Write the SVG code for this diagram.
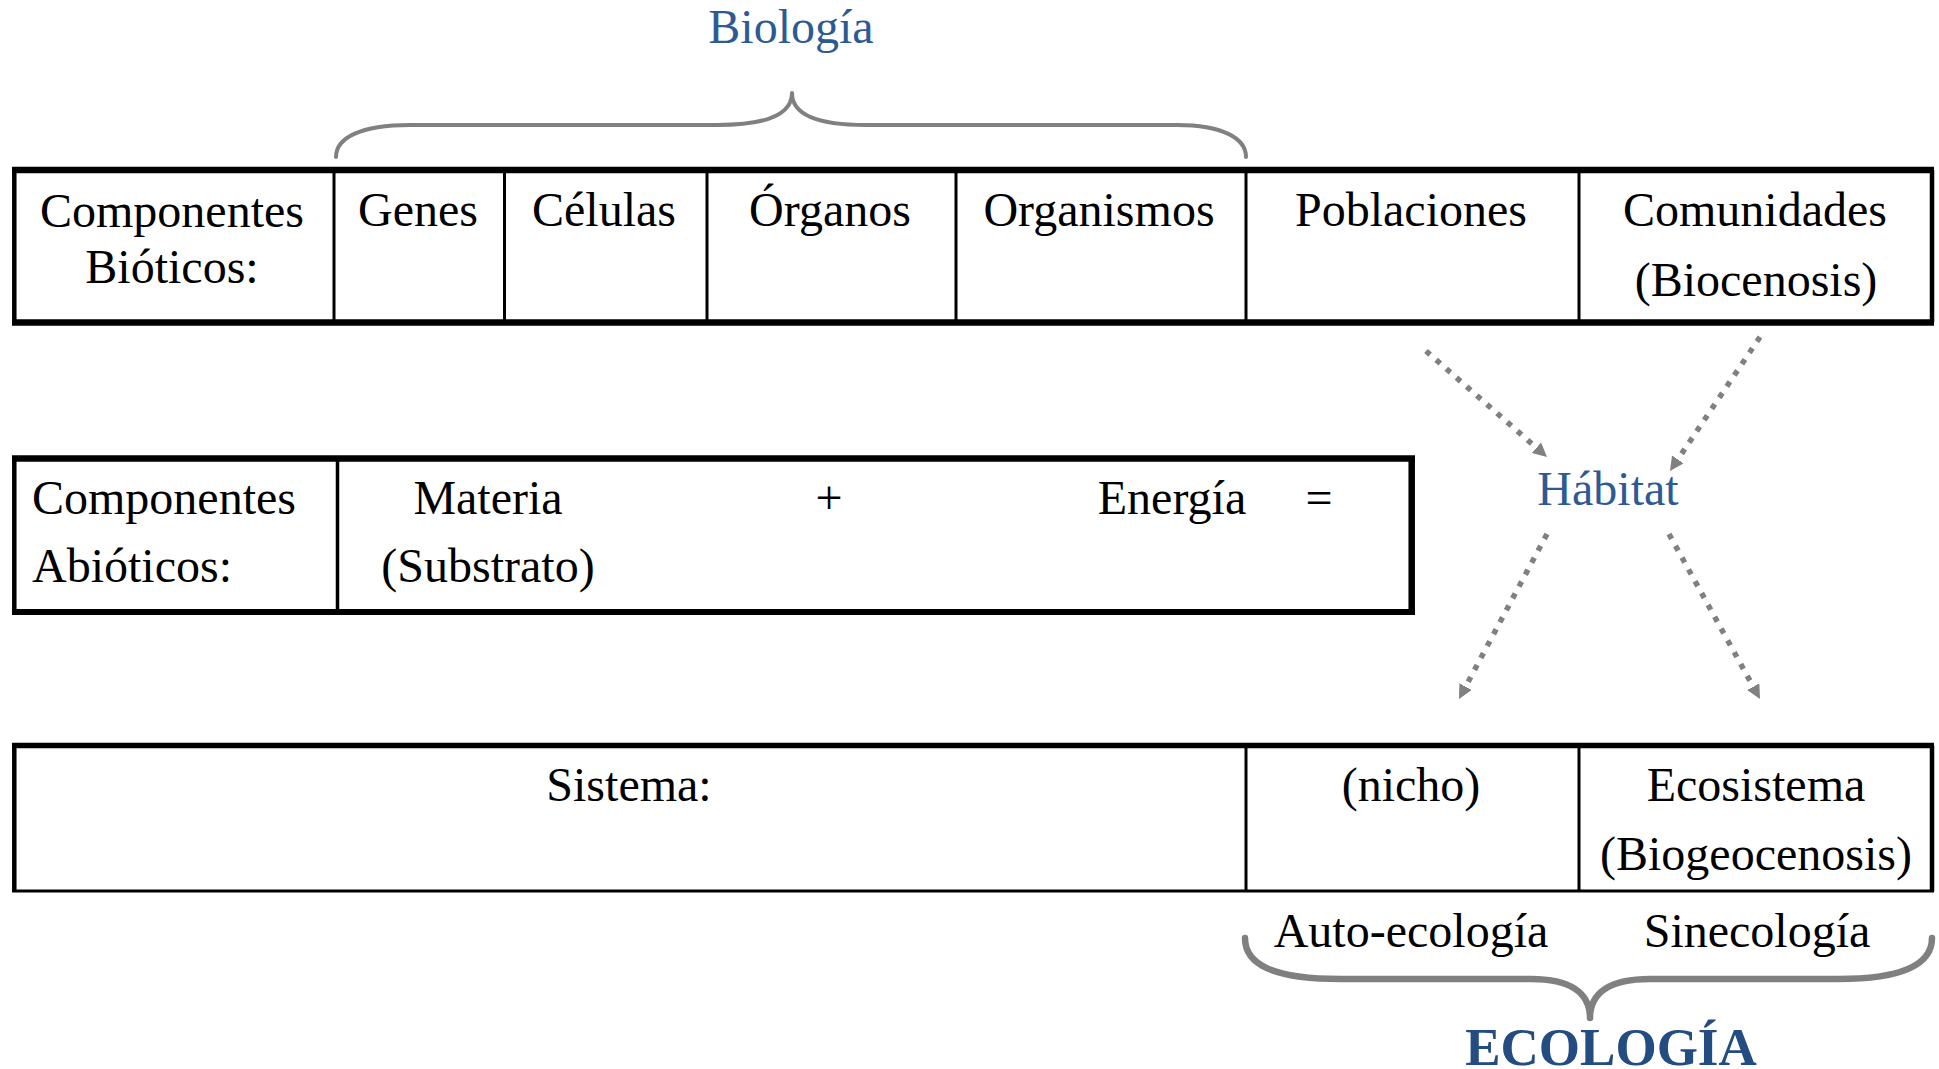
<svg xmlns="http://www.w3.org/2000/svg" width="1939" height="1069" viewBox="0 0 1939 1069">
<style>
  text { font-family: "Liberation Serif", "Times New Roman", serif; font-size: 48px; fill: #000; }
  .c { text-anchor: middle; }
  .blue { fill: #2E5A94; }
  .eco { fill: #234C80; font-weight: bold; font-size: 53px; }
  .b { stroke: #000; fill: none; }
  .brace { stroke: #808080; fill: none; stroke-linecap: round; stroke-linejoin: round; }
  .dot { stroke: #808080; stroke-width: 5.5; stroke-dasharray: 5.5 8; fill: none; }
</style>
<defs>
  <marker id="ah" markerUnits="userSpaceOnUse" markerWidth="18" markerHeight="16" refX="14" refY="7" orient="auto">
    <path d="M0,0 L14,7 L0,14 Z" fill="#808080"/>
  </marker>
</defs>
<rect width="1939" height="1069" fill="#fff"/>

<g id="biologia">
  <text class="c blue" x="791" y="43">Biología</text>
  <path class="brace" stroke-width="4" d="M336,157 C336,138 360,125 410,125 L717,125 C760,125 792,117 792,93 C792,117 824,125 866,125 L1177,125 C1222,125 1246,138 1246,157"/>
</g>

<g id="bioticos">
  <line class="b" x1="12" y1="170" x2="1934" y2="170" stroke-width="6.5"/>
  <line class="b" x1="12" y1="322.5" x2="1934" y2="322.5" stroke-width="6.5"/>
  <line class="b" x1="14.3" y1="170" x2="14.3" y2="322.5" stroke-width="4.5"/>
  <line class="b" x1="1932" y1="170" x2="1932" y2="322.5" stroke-width="4.5"/>
  <line class="b" x1="334" y1="170" x2="334" y2="322.5" stroke-width="3"/>
  <line class="b" x1="504.5" y1="170" x2="504.5" y2="322.5" stroke-width="3"/>
  <line class="b" x1="707" y1="170" x2="707" y2="322.5" stroke-width="3"/>
  <line class="b" x1="956" y1="170" x2="956" y2="322.5" stroke-width="3"/>
  <line class="b" x1="1246" y1="170" x2="1246" y2="322.5" stroke-width="3"/>
  <line class="b" x1="1579" y1="170" x2="1579" y2="322.5" stroke-width="3"/>
  <text class="c" x="172" y="227">Componentes</text>
  <text class="c" x="172" y="283">Bióticos:</text>
  <text class="c" x="418" y="226">Genes</text>
  <text class="c" x="604" y="226">Células</text>
  <text class="c" x="830" y="226">Órganos</text>
  <text class="c" x="1099" y="226">Organismos</text>
  <text class="c" x="1411" y="226">Poblaciones</text>
  <text class="c" x="1755" y="226">Comunidades</text>
  <text class="c" x="1756" y="296">(Biocenosis)</text>
</g>

<g id="abioticos">
  <line class="b" x1="12" y1="458.5" x2="1415" y2="458.5" stroke-width="6.5"/>
  <line class="b" x1="12" y1="612" x2="1415" y2="612" stroke-width="6"/>
  <line class="b" x1="14.3" y1="458.5" x2="14.3" y2="612" stroke-width="4.5"/>
  <line class="b" x1="1411.7" y1="458.5" x2="1411.7" y2="612" stroke-width="6.5"/>
  <line class="b" x1="337.5" y1="458.5" x2="337.5" y2="612" stroke-width="3.5"/>
  <text x="32" y="514">Componentes</text>
  <text x="32" y="582">Abióticos:</text>
  <text class="c" x="488" y="514">Materia</text>
  <text class="c" x="488" y="582">(Substrato)</text>
  <text class="c" x="829" y="514">+</text>
  <text class="c" x="1172" y="514">Energía</text>
  <text class="c" x="1319" y="514">=</text>
</g>

<g id="habitat">
  <text class="c blue" x="1608" y="505">Hábitat</text>
</g>

<g id="sistema">
  <line class="b" x1="12" y1="745.5" x2="1934" y2="745.5" stroke-width="5.5"/>
  <line class="b" x1="12" y1="891" x2="1934" y2="891" stroke-width="3"/>
  <line class="b" x1="14.3" y1="745.5" x2="14.3" y2="891" stroke-width="4.5"/>
  <line class="b" x1="1932" y1="745.5" x2="1932" y2="891" stroke-width="4.5"/>
  <line class="b" x1="1246" y1="745.5" x2="1246" y2="891" stroke-width="3"/>
  <line class="b" x1="1579" y1="745.5" x2="1579" y2="891" stroke-width="3"/>
  <text class="c" x="629" y="801">Sistema:</text>
  <text class="c" x="1411" y="801">(nicho)</text>
  <text class="c" x="1756" y="801">Ecosistema</text>
  <text class="c" x="1756" y="870">(Biogeocenosis)</text>
</g>

<g id="ecologia">
  <text class="c" x="1411" y="947">Auto-ecología</text>
  <text class="c" x="1757" y="947">Sinecología</text>
  <path class="brace" stroke-width="6.5" d="M1245,938 C1245,965 1274,979 1341,979 L1531,979 C1569,979 1590,992 1590,1018 C1590,992 1611,979 1650,979 L1838,979 C1902,979 1932,965 1932,938"/>
  <text class="c eco" x="1611" y="1065">ECOLOGÍA</text>
</g>

<g id="connectors">
  <line class="dot" x1="1426" y1="351" x2="1547" y2="457" marker-end="url(#ah)"/>
  <line class="dot" x1="1760" y1="337" x2="1670" y2="471" marker-end="url(#ah)"/>
  <line class="dot" x1="1547" y1="534" x2="1459" y2="699" marker-end="url(#ah)"/>
  <line class="dot" x1="1669" y1="534" x2="1760" y2="699" marker-end="url(#ah)"/>
</g>
</svg>
